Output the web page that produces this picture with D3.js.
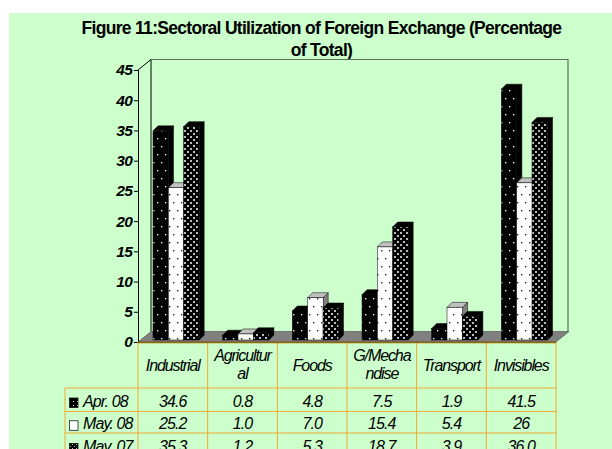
<!DOCTYPE html>
<html><head><meta charset="utf-8">
<script src="https://d3js.org/d3.v7.min.js"></script>
<style>html,body{margin:0;padding:0;background:#fff;overflow:hidden}svg{display:block}
text{font-family:"Liberation Sans",Arial,sans-serif;fill:#000}</style></head>
<body><svg id="c" width="612" height="449"></svg>
<script>
const titleLines = ["Figure 11:Sectoral Utilization of Foreign Exchange (Percentage", "of Total)"];
const categories = ["Industrial", "Agricultur\nal", "Foods", "G/Mecha\nndise", "Transport", "Invisibles"];
const seriesNames = ["Apr. 08", "May. 08", "May. 07"];
const apr08 = [34.6, 0.8, 4.8, 7.5, 1.9, 41.5];
const may08 = [25.2, 1.0, 7.0, 15.4, 5.4, 26];
const may07 = [35.3, 1.2, 5.3, 18.7, 3.9, 36.0];
const apr08Labels = ["34.6", "0.8", "4.8", "7.5", "1.9", "41.5"];
const may08Labels = ["25.2", "1.0", "7.0", "15.4", "5.4", "26"];
const may07Labels = ["35.3", "1.2", "5.3", "18.7", "3.9", "36.0"];
const yTicks = [0, 5, 10, 15, 20, 25, 30, 35, 40, 45];

const svg = d3.select("#c");
const y = d3.scaleLinear().domain([0, 45]).range([342, 70]);
const x0 = d3.scaleBand().domain(categories).range([138, 556]);
const x1 = d3.scaleBand().domain(seriesNames).range([0, 46]);
const rowY = d3.scaleOrdinal().domain(seriesNames).range([388, 411.5, 433]);
const depthX = 13, depthY = 10.5, barDX = 5, barDY = 5;
const white = "#ccffcc";

const defs = svg.append("defs");
function pat(id, w, h, bg, dots, r, col) {
  const p = defs.append("pattern").attr("id", id).attr("patternUnits", "userSpaceOnUse")
    .attr("width", w).attr("height", h);
  p.append("rect").attr("width", w).attr("height", h).attr("fill", bg);
  dots.forEach(d => p.append("rect").attr("x", d[0]).attr("y", d[1]).attr("width", r).attr("height", r).attr("fill", col));
}
pat("p0", 8, 16, "#000", [[1, 2], [5, 10]], 1.4, "#e8e8e8");
pat("p1", 8, 16, "#fff", [[1, 2], [5, 10]], 1.4, "#222");
pat("p2", 6, 6, "#000", [[1, 1], [4, 4]], 2, "#bbb");
pat("l0", 4, 4, "#000", [[1, 1]], 1, "#fff");
pat("l2", 4, 4, "#000", [[0, 0], [2, 2]], 1, "#bbb");

// background
svg.append("rect").attr("x", 9).attr("y", 13).attr("width", 603).attr("height", 436).attr("fill", white);

// title
svg.append("g").selectAll("text").data(titleLines).join("text")
  .attr("x", 321.5).attr("y", (d, i) => 34 + i * 21.7)
  .attr("text-anchor", "middle").attr("font-size", 17.5).attr("font-weight", "bold")
  .attr("letter-spacing", "-0.7").text(d => d);

// walls & floor
const L = x0.range()[0], R = x0.range()[1], B = y(0), T = y(45);
svg.append("path").attr("fill", "none").attr("stroke", "#000").attr("stroke-width", 1)
  .attr("d", d3.line()([[L, T], [L + depthX, T - depthY], [L + depthX, B - depthY]]));
svg.append("path").attr("fill", "none").attr("stroke", "#5a6f5a").attr("stroke-width", 1.2)
  .attr("d", d3.line()([[L + depthX, T - depthY], [R + depthX - 1, T - depthY], [R + depthX - 1, B - depthY]]));
svg.append("path").attr("fill", "#808080").attr("stroke", "#333").attr("stroke-width", 0.5)
  .attr("d", d3.line()([[L, B], [L + depthX, B - depthY], [R + depthX, B - depthY], [R, B]]) + "Z");

// bars
const seriesValues = [apr08, may08, may07];
const fills = ["url(#p0)", "url(#p1)", "url(#p2)"];
const tops = ["#000", "#c0c0c0", "#000"];
const sides = ["#000", "#808080", "#000"];
const barG = svg.append("g");
categories.forEach((c, ci) => {
  seriesNames.forEach((s, si) => {
    const v = seriesValues[si][ci];
    const xa = x0(c) + 15 + x1(s), w = x1.bandwidth() + 0.2;
    const yb = y(0) - 2, yt = y(v) - 2;
    const g = barG.append("g");
    g.append("path").attr("fill", sides[si]).attr("stroke", "#000").attr("stroke-width", 0.5)
      .attr("d", d3.line()([[xa + w, yb], [xa + w + barDX, yb - barDY], [xa + w + barDX, yt - barDY], [xa + w, yt]]) + "Z");
    g.append("path").attr("fill", tops[si]).attr("stroke", "#000").attr("stroke-width", 0.5)
      .attr("d", d3.line()([[xa, yt], [xa + barDX, yt - barDY], [xa + w + barDX, yt - barDY], [xa + w, yt]]) + "Z");
    g.append("rect").attr("x", xa).attr("y", yt).attr("width", w).attr("height", yb - yt)
      .attr("fill", fills[si]).attr("stroke", "#000").attr("stroke-width", 0.5);
  });
});

// y axis
const axis = svg.append("g").attr("transform", `translate(${L},0)`)
  .call(d3.axisLeft(y).tickValues(yTicks).tickSize(4).tickPadding(2).tickFormat(d3.format("d")));
axis.selectAll("path,line").attr("stroke", "#000");
axis.selectAll("text").attr("font-size", 15.5).attr("font-weight", "bold").attr("font-style", "italic")
  .attr("letter-spacing", "-0.8").attr("font-family", '"Liberation Sans",Arial,sans-serif').attr("fill", "#000");

// table grid
const orange = "#f0a830";
const colEdges = categories.map(c => x0(c)).concat([R]);
const gridG = svg.append("g").attr("stroke", orange).attr("stroke-width", 1);
colEdges.forEach(cx => gridG.append("line").attr("x1", cx).attr("x2", cx).attr("y1", B).attr("y2", 449));
gridG.append("line").attr("x1", 65).attr("x2", 65).attr("y1", rowY(seriesNames[0])).attr("y2", 449);
seriesNames.forEach(s => gridG.append("line").attr("x1", 65).attr("x2", R).attr("y1", rowY(s)).attr("y2", rowY(s)));
svg.append("line").attr("x1", L).attr("x2", R).attr("y1", B + 0.5).attr("y2", B + 0.5)
  .attr("stroke", "#996600").attr("stroke-width", 1.5);

// category labels
const cx = c => x0(c) + x0.bandwidth() / 2;
categories.forEach(c => {
  const lines = c.split("\n");
  const base = lines.length === 1 ? 370.5 : 361;
  lines.forEach((t, i) => svg.append("text").attr("x", cx(c)).attr("y", base + i * 18)
    .attr("text-anchor", "middle").attr("font-size", 16).attr("font-style", "italic")
    .attr("letter-spacing", "-1.1").text(t));
});

// table values and legend
const rowLabels = [apr08Labels, may08Labels, may07Labels];
const keyFill = ["url(#l0)", "#fff", "url(#l2)"];
const baseY = [406.5, 429.3, 452];
seriesNames.forEach((s, si) => {
  svg.append("rect").attr("x", 69.5).attr("y", baseY[si] - 8.5).attr("width", 8.5).attr("height", 9.5)
    .attr("fill", keyFill[si]).attr("stroke", "#000").attr("stroke-width", 0.7);
  svg.append("text").attr("x", 83).attr("y", baseY[si]).attr("font-size", 16).attr("font-style", "italic")
    .attr("letter-spacing", "-0.9").text(s);
  categories.forEach((c, ci) => svg.append("text").attr("x", cx(c)).attr("y", baseY[si])
    .attr("text-anchor", "middle").attr("font-size", 16).attr("font-style", "italic")
    .attr("letter-spacing", "-0.9").text(rowLabels[si][ci]));
});
</script></body></html>
